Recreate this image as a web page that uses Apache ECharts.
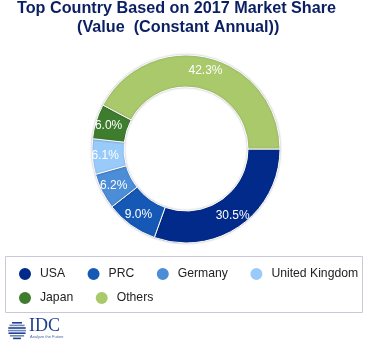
<!DOCTYPE html>
<html>
<head>
<meta charset="utf-8">
<script src="https://cdn.jsdelivr.net/npm/echarts@6/dist/echarts.min.js"></script>
<style>
  html, body { margin: 0; padding: 0; background: #fff; }
  #chart { width: 370px; height: 350px; }
</style>
</head>
<body>
<div id="chart"></div>
<script>
// Market share by country, 2017 (value, constant annual)
const countries = ['USA', 'PRC', 'Germany', 'United Kingdom', 'Japan', 'Others'];
const shares = [30.5, 9.0, 6.2, 6.1, 6.0, 42.3];
const colors = ['#022a8a', '#1558b6', '#4b8dd6', '#99cbfa', '#3e7d2e', '#a9c96b'];
const titleLines = ['Top Country Based on 2017 Market Share', '(Value  (Constant Annual))'];

const chart = echarts.init(document.getElementById('chart'), null, { renderer: 'canvas' });

const pieData = countries.map((name, i) => ({
  name: name,
  value: shares[i],
  itemStyle: { color: colors[i] }
}));

const titleFont = {
  fontFamily: 'Liberation Sans, Arial, sans-serif',
  fontSize: 16.2,
  fontWeight: 'bold',
  color: '#0b1f63'
};

const legendText = {
  fontFamily: 'Liberation Sans, Arial, sans-serif',
  fontSize: 12.2,
  color: '#222',
  padding: [0, 0, 0, 3]
};

function legendRow(names, top) {
  return {
    data: names,
    left: 17,
    top: top,
    orient: 'horizontal',
    icon: 'circle',
    itemWidth: 14,
    itemHeight: 14,
    itemGap: 20.5,
    textStyle: legendText,
    padding: 0
  };
}

// Small globe-and-wordmark logo in the lower left corner
const globeStripes = [];
for (let k = 0; k < 7; k++) {
  const y = 322 + k * 2.6;
  const dy = y - 329.5;
  const half = Math.sqrt(Math.max(0, 81 - dy * dy));
  globeStripes.push({
    type: 'rect',
    shape: { x: 17 - half, y: y, width: half * 2, height: 1.6 },
    style: { fill: k % 2 ? '#6f86b8' : '#1f3f8f' }
  });
}

chart.setOption({
  animation: false,
  title: [
    { text: titleLines[0], left: 17, top: 1, padding: 0, textStyle: titleFont },
    { text: titleLines[1], left: 77, top: 20, padding: 0, textStyle: titleFont }
  ],
  legend: [
    legendRow(countries.slice(0, 4), 266),
    legendRow(countries.slice(4), 290)
  ],
  graphic: [
    {
      type: 'rect',
      shape: { x: 5.5, y: 256.5, width: 357, height: 56 },
      style: { fill: 'none', stroke: '#c8c8d8', lineWidth: 1 }
    },
    { type: 'group', children: globeStripes },
    {
      type: 'text',
      left: 29,
      top: 317,
      style: {
        text: 'IDC',
        fontFamily: 'Liberation Serif, Times New Roman, serif',
        fontSize: 18,
        fill: '#1f3f8f'
      }
    },
    {
      type: 'text',
      left: 30,
      top: 335,
      style: {
        text: 'Analyze the Future',
        fontFamily: 'Liberation Sans, Arial, sans-serif',
        fontSize: 4,
        fill: '#4a66a8'
      }
    }
  ],
  series: [{
    type: 'pie',
    center: [186, 149],
    radius: [62, 94],
    startAngle: 0,
    clockwise: true,
    data: pieData,
    itemStyle: {
      borderColor: '#ffffff',
      borderWidth: 1,
      shadowBlur: 2,
      shadowColor: 'rgba(60,60,90,0.35)'
    },
    label: {
      show: true,
      position: 'inside',
      formatter: p => p.value.toFixed(1) + '%',
      color: '#ffffff',
      fontFamily: 'Liberation Sans, Arial, sans-serif',
      fontSize: 12
    },
    labelLine: { show: false },
    emphasis: { disabled: true }
  }]
});
</script>
</body>
</html>
